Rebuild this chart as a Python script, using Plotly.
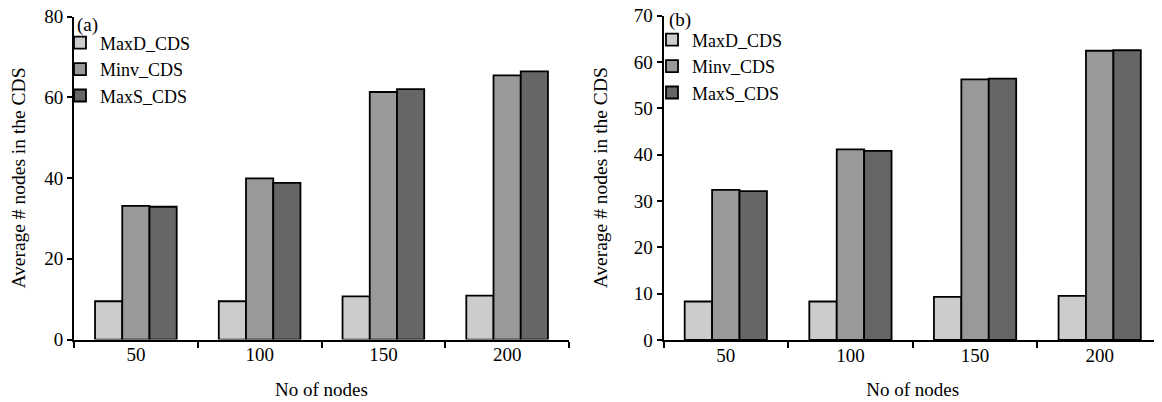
import plotly.graph_objects as go

categories = ["50", "100", "150", "200"]
series_names = ["MaxD_CDS", "Minv_CDS", "MaxS_CDS"]
colors = ["#cccccc", "#999999", "#666666"]

# panel (a)
a_maxd = [9.5, 9.5, 10.7, 10.9]
a_minv = [33.1, 39.9, 61.3, 65.4]
a_maxs = [32.9, 38.8, 62.0, 66.4]

# panel (b)
b_maxd = [8.3, 8.3, 9.3, 9.5]
b_minv = [32.4, 41.1, 56.2, 62.4]
b_maxs = [32.1, 40.8, 56.4, 62.5]

FONT = "Liberation Serif"
OFF = 8  # page body margin offset
W, H = 1162 - OFF, 402 - OFF

fig = go.Figure()

for vals, name, col in zip([a_maxd, a_minv, a_maxs], series_names, colors):
    fig.add_trace(go.Bar(x=categories, y=vals, name=name, marker_color=col,
                         marker_line=dict(color="black", width=1.8),
                         xaxis="x", yaxis="y", legend="legend"))
for vals, name, col in zip([b_maxd, b_minv, b_maxs], series_names, colors):
    fig.add_trace(go.Bar(x=categories, y=vals, name=name, marker_color=col,
                         marker_line=dict(color="black", width=1.8),
                         xaxis="x2", yaxis="y2", legend="legend2"))

def px_x(s):
    return min(1.0, (s - OFF) / W)

def px_y(s):
    return (H - (s - OFF)) / H

xcommon = dict(type="category", tickson="boundaries", ticks="outside", ticklen=6,
               tickwidth=1.8, tickcolor="black", showline=True, linecolor="black",
               linewidth=1.8, showgrid=False, zeroline=False, automargin=False,
               ticklabelstandoff=-3, ticklabeloverflow="allow",
               tickfont=dict(family=FONT, size=19, color="black"),
               title=dict(text="No of nodes", font=dict(family=FONT, size=19, color="black"), standoff=18),
               range=[-0.5, 3.5])
ycommon = dict(ticks="outside", ticklen=5, tickwidth=1.8, tickcolor="black",
               showline=True, linecolor="black", linewidth=1.8, showgrid=False,
               zeroline=False, automargin=False, ticklabeloverflow="allow",
               tickfont=dict(family=FONT, size=19, color="black"),
               title=dict(text="Average # nodes in the CDS",
                          font=dict(family=FONT, size=19.5, color="black"), standoff=21))

legcommon = dict(font=dict(family=FONT, size=18, color="black"), bgcolor="rgba(0,0,0,0)",
                 xanchor="left", yanchor="top", traceorder="normal", tracegroupgap=0)

fig.update_layout(
    width=W, height=H,
    margin=dict(l=0, r=0, t=0, b=0, autoexpand=False),
    paper_bgcolor="white", plot_bgcolor="white",
    barmode="group", bargap=0.34, bargroupgap=0,
    font=dict(family=FONT, color="black"),
    xaxis=dict(domain=[px_x(74), px_x(569)], anchor="y", **xcommon),
    yaxis=dict(domain=[px_y(339.6), px_y(16.5)], anchor="x", range=[0, 80], dtick=20, **ycommon),
    xaxis2=dict(domain=[px_x(663.5), 1.0], anchor="y2", **xcommon),
    yaxis2=dict(domain=[px_y(340), px_y(15.5)], anchor="x2", range=[0, 70], dtick=10, **ycommon),
    legend=dict(x=px_x(60), y=px_y(24.5), **legcommon),
    legend2=dict(x=px_x(652), y=px_y(21.5), **legcommon),
    showlegend=True,
    annotations=[
        dict(text="(a)", x=px_x(75), y=px_y(25), xref="paper", yref="paper",
             xanchor="left", yanchor="middle", showarrow=False,
             font=dict(family=FONT, size=19, color="black")),
        dict(text="(b)", x=px_x(667), y=px_y(20), xref="paper", yref="paper",
             xanchor="left", yanchor="middle", showarrow=False,
             font=dict(family=FONT, size=19, color="black")),
    ],
)

fig.write_html("out.html")
